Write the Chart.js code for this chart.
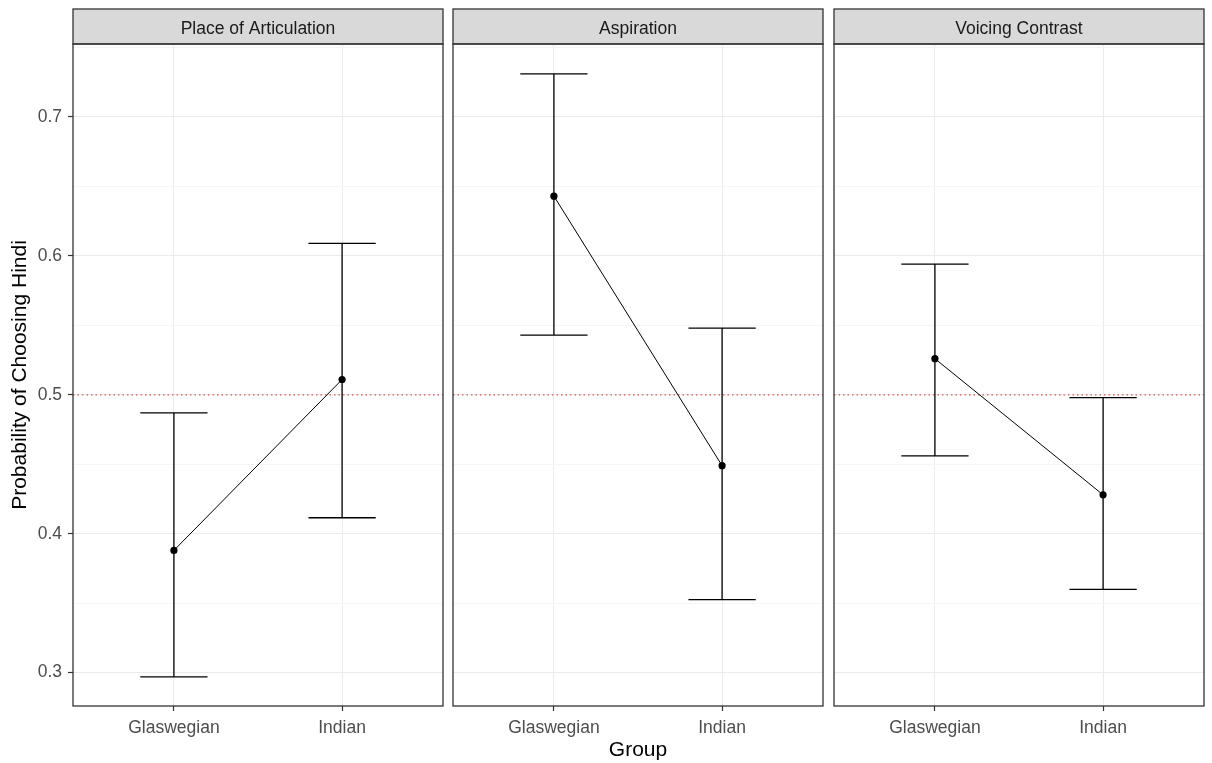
<!DOCTYPE html>
<html>
<head>
<meta charset="utf-8">
<script src="https://cdn.jsdelivr.net/npm/chart.js@4/dist/chart.umd.min.js"></script>
<style>
  html, body { margin: 0; padding: 0; background: #fff; }
  #wrap { position: relative; width: 1212px; height: 763px; overflow: hidden; }
  .panel { position: absolute; top: 0; }
</style>
</head>
<body>
<div id="wrap">
  <div class="panel" style="left:0px"><canvas id="c0" width="447" height="763"></canvas></div>
  <div class="panel" style="left:449px"><canvas id="c1" width="378" height="763"></canvas></div>
  <div class="panel" style="left:830px"><canvas id="c2" width="378" height="763"></canvas></div>
</div>
<script>
// facets and groups
const facets = ["Place of Articulation", "Aspiration", "Voicing Contrast"];
const groups = ["Glaswegian", "Indian"];

// estimated probabilities and error bar limits, one pair per facet
const probPlace = [0.388, 0.511];
const lowerPlace = [0.297, 0.4115];
const upperPlace = [0.487, 0.609];

const probAspiration = [0.643, 0.449];
const lowerAspiration = [0.543, 0.3525];
const upperAspiration = [0.731, 0.548];

const probVoicing = [0.526, 0.428];
const lowerVoicing = [0.456, 0.360];
const upperVoicing = [0.594, 0.498];

const chanceLevel = 0.5;
const yTicks = [0.3, 0.35, 0.4, 0.45, 0.5, 0.55, 0.6, 0.65, 0.7, 0.75];
const yLabels = [0.3, 0.4, 0.5, 0.6, 0.7];

const facetData = [
  { prob: probPlace, lower: lowerPlace, upper: upperPlace },
  { prob: probAspiration, lower: lowerAspiration, upper: upperAspiration },
  { prob: probVoicing, lower: lowerVoicing, upper: upperVoicing }
];

const FONT = "'Liberation Sans', Arial, sans-serif";
const isMajor = v => yLabels.some(l => Math.abs(l - v) < 1e-6);

// strip label + panel border, ggplot theme_bw style
const facetPlugin = {
  id: "facet",
  afterDraw(chart, args, opts) {
    const { ctx, chartArea: a } = chart;
    ctx.save();
    ctx.fillStyle = "#D9D9D9";
    ctx.fillRect(a.left, 9, a.right - a.left, a.top - 9);
    ctx.strokeStyle = "#333333";
    ctx.lineWidth = 1.3;
    ctx.strokeRect(a.left, 9, a.right - a.left, a.top - 9);
    ctx.strokeRect(a.left, a.top, a.right - a.left, a.bottom - a.top);
    ctx.fillStyle = "#1A1A1A";
    ctx.font = "17.5px " + FONT;
    ctx.textAlign = "center";
    ctx.textBaseline = "middle";
    ctx.fillText(opts.title, (a.left + a.right) / 2, (9 + a.top) / 2 + 2.5);
    ctx.restore();
  }
};

function makeChart(idx) {
  const d = facetData[idx];
  const first = idx === 0;

  const errData = [];
  groups.forEach((g, i) => {
    const x = i + 1;
    errData.push({ x: x - 0.2, y: d.upper[i] }, { x: x + 0.2, y: d.upper[i] }, { x: x, y: null });
    errData.push({ x: x, y: d.upper[i] }, { x: x, y: d.lower[i] }, { x: x, y: null });
    errData.push({ x: x - 0.2, y: d.lower[i] }, { x: x + 0.2, y: d.lower[i] }, { x: x, y: null });
  });

  return new Chart(document.getElementById("c" + idx), {
    type: "line",
    data: {
      datasets: [
        {
          data: groups.map((g, i) => ({ x: i + 1, y: d.prob[i] })),
          borderColor: "#000",
          borderWidth: 1,
          pointRadius: 3.6,
          pointBackgroundColor: "#000",
          pointBorderWidth: 0
        },
        {
          data: errData,
          borderColor: "#000",
          borderWidth: 1.3,
          pointRadius: 0,
          spanGaps: false
        },
        {
          data: [{ x: 0.4, y: chanceLevel }, { x: 2.6, y: chanceLevel }],
          borderColor: "rgba(214,60,60,0.85)",
          borderWidth: 1.2,
          borderDash: [1.5, 3],
          pointRadius: 0
        }
      ]
    },
    options: {
      responsive: false,
      animation: false,
      layout: { padding: { top: 44, left: first ? 0 : 1, right: 1, bottom: 0 } },
      plugins: {
        legend: { display: false },
        tooltip: { enabled: false },
        facet: { title: facets[idx] }
      },
      scales: {
        x: {
          type: "linear",
          min: 0.4,
          max: 2.6,
          afterBuildTicks: s => { s.ticks = groups.map((g, i) => ({ value: i + 1 })); },
          afterFit: s => { s.height = 57; },
          border: { display: false },
          grid: { color: "#EBEBEB", lineWidth: 1, tickLength: 5, tickColor: "#333333", tickWidth: 1.2 },
          ticks: {
            color: "#4D4D4D",
            font: { size: 17.5, family: FONT },
            padding: 7,
            maxRotation: 0,
            callback: v => groups[Math.round(v) - 1]
          },
          title: {
            display: idx === 1,
            text: "Group",
            color: "#000",
            font: { size: 21, family: FONT },
            padding: { top: 0, bottom: 0 }
          }
        },
        y: {
          type: "linear",
          min: 0.276,
          max: 0.7525,
          afterBuildTicks: s => { s.ticks = yTicks.map(v => ({ value: v })); },
          afterFit: s => { s.width = first ? 73 : 0; },
          border: { display: false },
          grid: {
            drawTicks: first,
            tickLength: 5,
            tickWidth: 1.2,
            color: c => isMajor(c.tick.value) ? "#EBEBEB" : "#F5F5F5",
            tickColor: c => isMajor(c.tick.value) ? "#333333" : "rgba(0,0,0,0)",
            lineWidth: 1
          },
          ticks: {
            display: first,
            color: "#4D4D4D",
            font: { size: 17.5, family: FONT },
            padding: 6,
            callback: v => isMajor(v) ? v.toFixed(1) : ""
          },
          title: {
            display: first,
            text: "Probability of Choosing Hindi",
            color: "#000",
            font: { size: 21, family: FONT },
            padding: { top: 8, bottom: 0 }
          }
        }
      }
    },
    plugins: [facetPlugin]
  });
}

[0, 1, 2].forEach(makeChart);
</script>
</body>
</html>
